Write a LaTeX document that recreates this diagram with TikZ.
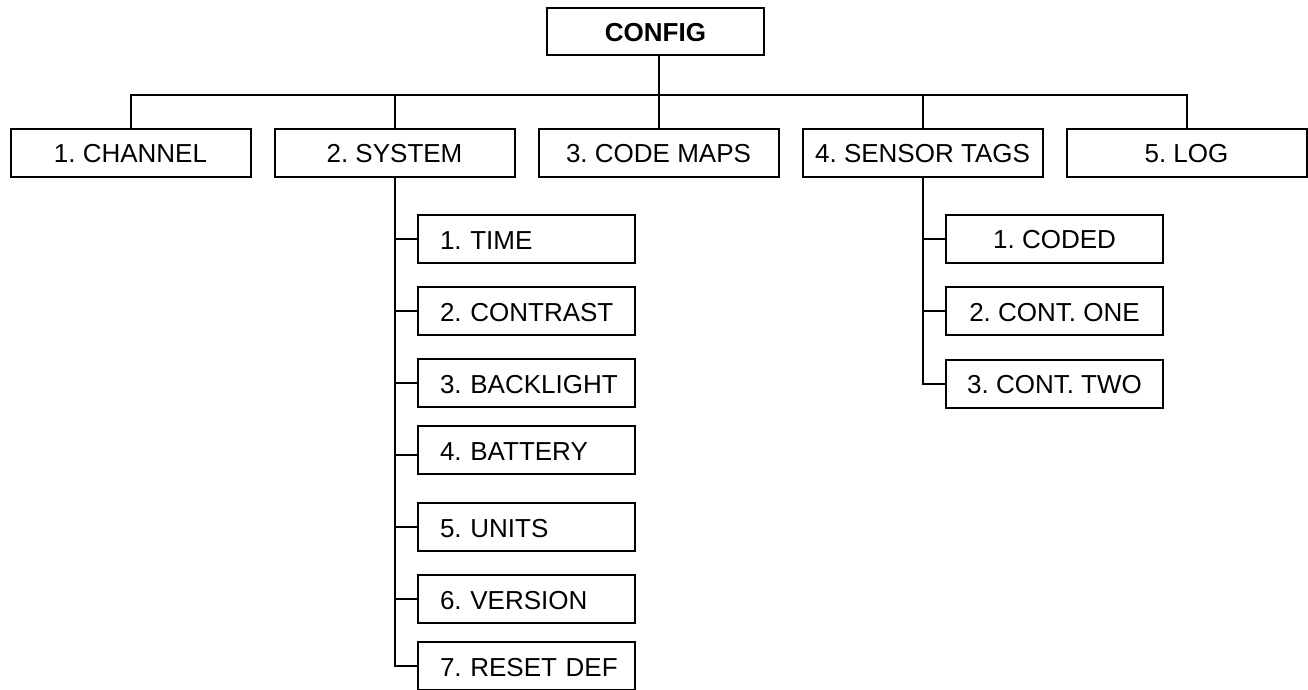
\documentclass[tikz,border=0pt]{standalone}
\usepackage{fontspec}
\setmainfont{Liberation Sans}
\begin{document}
\begin{tikzpicture}[x=1pt,y=-1pt,line width=2pt,
  every node/.style={font=\fontsize{26}{30}\selectfont\frenchspacing, inner sep=0pt},
  rootbox/.style={draw, minimum width=217pt, minimum height=47pt,
    text height=20pt, text depth=0pt,
    font=\fontsize{26}{30}\selectfont\frenchspacing\bfseries},
  topbox/.style={draw, minimum width=240pt, minimum height=48pt,
    text height=20pt, text depth=0pt},
  subbox/.style={draw, minimum width=217pt, minimum height=48pt,
    text height=20pt, text depth=0pt},
  leftsub/.style={subbox, text width=195pt, align=left,
    execute at begin node={\hspace*{11pt}}}]
\useasboundingbox (0,0) rectangle (1308,689);
\clip (0,0) rectangle (1308,689);

% root
\node[rootbox] (cfg) at (655.5,31.7) {CONFIG};
\coordinate (busc) at (658.5,95);

% first level
\node[topbox] (ch)  at (130.5,152.5)  {1. CHANNEL};
\node[topbox] (sys) at (394.5,152.5)  {2. SYSTEM};
\node[topbox] (cm)  at (658.5,152.5)  {3. CODE MAPS};
\node[topbox] (st)  at (922.5,152.5)  {4. SENSOR TAGS};
\node[topbox] (log) at (1186.5,152.5) {5. LOG};

% system menu
\node[leftsub] (t1) at (526.5,239) {1. TIME};
\node[leftsub] (t2) at (526.5,311) {2. CONTRAST};
\node[leftsub] (t3) at (526.5,383) {3. BACKLIGHT};
\node[leftsub] (t4) at (526.5,450) {4. BATTERY};
\node[leftsub] (t5) at (526.5,527) {5. UNITS};
\node[leftsub] (t6) at (526.5,599) {6. VERSION};
\node[leftsub] (t7) at (526.5,666) {7. RESET DEF};

% sensor tag menu
\node[subbox] (s1) at (1054.5,238.5) {1. CODED};
\node[subbox] (s2) at (1054.5,311)   {2. CONT. ONE};
\node[subbox] (s3) at (1054.5,383.5) {3. CONT. TWO};

% connectors
\draw (cfg.south -| busc) -- (busc);
\foreach \n in {ch,sys,cm,st,log} \draw (\n.north) |- (busc);
\foreach \n in {t1,t2,t3,t5,t6,t7} \draw (sys.south) |- (\n.west);
\draw (sys.south) |- ([yshift=-5pt]t4.west);
\foreach \n in {s1,s2,s3} \draw (st.south) |- (\n.west);
\end{tikzpicture}
\end{document}
